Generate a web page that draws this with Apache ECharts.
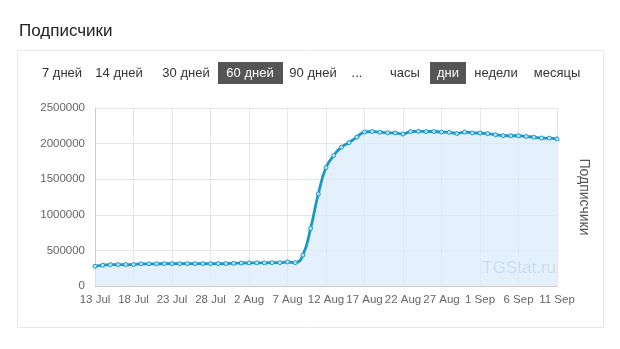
<!DOCTYPE html>
<html><head><meta charset="utf-8">
<script src="https://cdn.jsdelivr.net/npm/echarts@6/dist/echarts.min.js"></script>
<style>html,body{margin:0;padding:0;background:#fff}#c{width:620px;height:349px}</style>
</head><body><div id="c"></div>
<script>
const categories = [
 '13 Jul','14 Jul','15 Jul','16 Jul','17 Jul','18 Jul','19 Jul','20 Jul','21 Jul','22 Jul','23 Jul','24 Jul','25 Jul','26 Jul','27 Jul','28 Jul','29 Jul','30 Jul','31 Jul',
 '1 Aug','2 Aug','3 Aug','4 Aug','5 Aug','6 Aug','7 Aug','8 Aug','9 Aug','10 Aug','11 Aug','12 Aug','13 Aug','14 Aug','15 Aug','16 Aug','17 Aug','18 Aug','19 Aug','20 Aug','21 Aug','22 Aug','23 Aug','24 Aug','25 Aug','26 Aug','27 Aug','28 Aug','29 Aug','30 Aug','31 Aug',
 '1 Sep','2 Sep','3 Sep','4 Sep','5 Sep','6 Sep','7 Sep','8 Sep','9 Sep','10 Sep','11 Sep'];
const subscribers = [
 277000,292000,300000,300000,301000,301000,312000,312000,312000,313000,313000,313000,314000,314000,314000,314000,315000,315000,318000,
 322000,325000,326000,326000,327000,328000,338000,328000,433000,809000,1292000,1663000,1832000,1950000,2015000,2091000,2162000,2170000,2160000,2152000,2150000,2135000,2170000,2172000,2170000,2170000,2162000,2158000,2142000,2162000,2150000,
 2148000,2140000,2125000,2112000,2110000,2110000,2100000,2090000,2078000,2077000,2067000];
const periodButtons = ['7 дней','14 дней','30 дней','60 дней','90 дней','...'];
const unitButtons = ['часы','дни','недели','месяцы'];
const titleText = 'Подписчики';
const axisName = 'Подписчики';
const watermark = 'TGStat.ru';

const btnPos = [62, 119, 186, 250, 313, 357];
const unitPos = [405, 448, 496, 557];
const font = 'Arial, "Liberation Sans", sans-serif';
const graphics = [
  {type:'rect', shape:{x:17.5,y:50.5,width:586,height:277}, style:{fill:'none', stroke:'#e8e8e8', lineWidth:1}, z:-1},
  {type:'rect', shape:{x:218,y:62,width:65,height:22}, style:{fill:'#555'}},
  {type:'rect', shape:{x:430,y:62,width:36,height:22}, style:{fill:'#555'}},
];
periodButtons.forEach((t,i)=>graphics.push({type:'text', x:btnPos[i], y:73, style:{text:t, fill: i===3?'#fff':'#333', font:'13px '+font, textAlign:'center', textVerticalAlign:'middle'}}));
unitButtons.forEach((t,i)=>graphics.push({type:'text', x:unitPos[i], y:73, style:{text:t, fill: i===1?'#fff':'#333', font:'13px '+font, textAlign:'center', textVerticalAlign:'middle'}}));
graphics.push({type:'text', x:584, y:197, rotation:-Math.PI/2, style:{text:axisName, fill:'#555', font:'14px '+font, textAlign:'center', textVerticalAlign:'middle'}});
graphics.push({type:'text', x:556, y:268, style:{text:watermark, fill:'#aeb9c3', font:'17px '+font, textAlign:'right', textVerticalAlign:'middle'}});

const chart = echarts.init(document.getElementById('c'));
chart.setOption({
  animation:false,
  title:{text:titleText, left:14, top:18, textStyle:{fontSize:17, fontWeight:'normal', color:'#222', fontFamily:font}},
  grid:{left:95, right:63, top:108, bottom:63},
  xAxis:{type:'category', data:categories, boundaryGap:false,
    axisLine:{lineStyle:{color:'#ccc'}}, axisTick:{show:false},
    axisLabel:{interval:4, color:'#666', fontSize:11.5, fontFamily:font, margin:8},
    splitLine:{show:true, interval:4, lineStyle:{color:'#e6e6e6'}}},
  yAxis:{type:'value', min:0, max:2500000, interval:500000,
    axisLine:{show:true, lineStyle:{color:'#ccc'}}, axisTick:{show:false},
    axisLabel:{color:'#666', fontSize:11.5, fontFamily:font, margin:10, formatter:v=>String(v)},
    splitLine:{lineStyle:{color:'#e6e6e6'}}},
  series:[{type:'line', data:subscribers, smooth:true, symbol:'circle', symbolSize:4,
    lineStyle:{color:'#1a98c8', width:2.8},
    itemStyle:{color:'#bfe3f5', borderColor:'#1a98c8', borderWidth:1},
    areaStyle:{color:'#d8ebfc'}}],
  graphic:graphics
});
</script></body></html>
